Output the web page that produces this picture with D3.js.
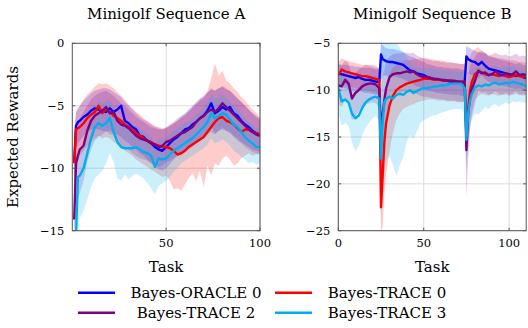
<!DOCTYPE html>
<html>
<head>
<meta charset="utf-8">
<script src="https://cdn.jsdelivr.net/npm/d3@7"></script>
<style>
  body { margin: 0; background: #fff; }
  svg { display: block; font-family: "DejaVu Serif", serif; }
</style>
</head>
<body>
<svg id="chart" width="528" height="328"></svg>
<script>
// ------------------------------
// DONNEES
// ------------------------------
const seriesNames = ["Bayes-ORACLE 0", "Bayes-TRACE 0", "Bayes-TRACE 2", "Bayes-TRACE 3"];
const seriesColors = ["#0000ff", "#ff0000", "#800080", "#00aeef"];

// Sequence A
const tasksA = [1,2,3,4,6,8,10,12,14,16,18,20,22,24,26,28,30,32,34,36,38,40,42,44,46,48,50,52,54,56,58,60,62,64,66,68,70,72,74,76,78,80,82,84,86,88,90,92,94,96,98,100];
const oracle0A = [-9.5,-6.6,-6.3,-6.2,-5.9,-5.7,-5.4,-5.2,-5.3,-5.4,-5.5,-5.2,-5.5,-5.3,-5.0,-6.2,-6.4,-6.7,-6.9,-7.4,-7.5,-7.8,-8.0,-8.3,-8.5,-8.6,-8.3,-8.0,-7.7,-7.5,-7.2,-6.9,-6.8,-6.5,-6.3,-6.0,-5.8,-5.4,-4.8,-5.6,-5.4,-5.1,-5.3,-5.1,-5.6,-5.8,-6.2,-6.5,-6.7,-7.0,-7.2,-7.3];
const trace0A = [-9.6,-6.9,-6.8,-6.7,-6.4,-6.0,-5.7,-5.5,-5.0,-5.6,-5.3,-5.5,-5.8,-6.0,-6.2,-6.5,-6.7,-6.9,-7.2,-7.4,-7.6,-7.8,-7.9,-8.1,-8.2,-8.3,-8.3,-8.4,-8.6,-8.9,-8.8,-8.6,-8.3,-8.1,-7.9,-7.7,-7.5,-7.1,-6.7,-6.3,-6.0,-5.9,-6.2,-6.3,-6.5,-6.8,-7.1,-6.9,-6.9,-7.1,-7.2,-7.3];
const trace2A = [-14.1,-9.6,-9.0,-8.5,-8.2,-7.0,-6.2,-5.8,-5.6,-5.4,-5.1,-5.6,-5.5,-6.2,-6.5,-6.6,-6.8,-7.1,-7.4,-7.6,-7.7,-7.8,-8.0,-8.1,-8.3,-8.2,-7.9,-7.8,-7.6,-7.4,-7.2,-7.1,-6.9,-6.7,-6.3,-6.0,-5.8,-5.5,-5.3,-5.5,-5.2,-4.8,-5.1,-5.4,-5.7,-6.0,-6.3,-6.6,-6.9,-7.1,-7.3,-7.4];
const trace3A = [-15.3,-15.3,-10.7,-10.6,-10.0,-8.8,-7.6,-6.7,-6.4,-6.6,-6.4,-6.0,-7.1,-7.9,-8.3,-8.4,-8.4,-8.4,-8.3,-8.5,-8.7,-8.8,-9.0,-9.9,-9.2,-9.3,-9.2,-8.9,-8.6,-8.4,-8.2,-8.0,-7.8,-7.6,-7.3,-7.0,-6.7,-6.3,-5.6,-6.0,-5.8,-5.6,-5.7,-6.1,-6.5,-6.7,-7.1,-7.5,-7.8,-8.0,-8.3,-8.3];
// bandes (min / max)
const oracle0ALo = [-12,-8.5,-8.0,-7.8,-7.4,-7.1,-6.9,-6.8,-6.9,-7.0,-7.1,-7.0,-7.2,-7.3,-7.5,-7.8,-8.0,-8.3,-8.5,-8.8,-9.0,-9.3,-9.6,-9.9,-10.1,-10.2,-10.0,-9.7,-9.3,-9.0,-8.7,-8.5,-8.3,-8.0,-7.8,-7.6,-7.4,-7.1,-6.6,-7.2,-7.0,-6.9,-7.0,-7.1,-7.4,-7.6,-7.9,-8.1,-8.3,-8.5,-8.6,-8.7];
const oracle0AHi = [-7,-5.5,-5.2,-5.0,-4.6,-4.3,-4.0,-3.8,-3.7,-3.6,-3.6,-3.7,-3.9,-4.1,-4.3,-4.7,-5.0,-5.3,-5.6,-5.9,-6.1,-6.3,-6.5,-6.7,-6.8,-6.9,-6.8,-6.6,-6.4,-6.2,-5.9,-5.7,-5.4,-5.1,-4.8,-4.5,-4.3,-4.0,-3.6,-3.8,-3.6,-3.5,-3.7,-3.8,-4.1,-4.4,-4.7,-5.0,-5.3,-5.6,-5.9,-6.1];
const trace0ALo = [-12,-10.5,-9.5,-9.0,-8.6,-8.2,-7.9,-7.6,-7.4,-7.6,-7.5,-7.6,-7.9,-8.1,-8.3,-8.6,-8.8,-9.0,-9.3,-9.5,-9.7,-9.9,-10.1,-10.3,-10.5,-10.7,-10.6,-11.0,-11.7,-11.6,-11.8,-11.3,-10.8,-10.4,-11.0,-10.2,-11.5,-9.8,-10.6,-9.6,-9.8,-9.2,-9.0,-9.3,-9.8,-9.6,-9.2,-9.0,-8.8,-9.0,-8.9,-8.8];
const trace0AHi = [-7.5,-5.5,-5.3,-5.0,-4.5,-4.1,-3.8,-3.5,-3.2,-3.3,-3.2,-3.4,-3.6,-3.9,-4.2,-4.5,-4.9,-5.2,-5.5,-5.7,-6.0,-6.2,-6.4,-6.6,-6.7,-6.8,-6.8,-6.6,-6.4,-6.2,-6.0,-5.8,-5.5,-5.2,-4.9,-4.6,-4.4,-3.8,-2.8,-1.6,-2.6,-2.2,-3.0,-3.2,-3.6,-3.9,-4.3,-4.6,-5.0,-5.3,-5.6,-5.9];
const trace2ALo = [-15,-14,-12.5,-12.0,-11.0,-9.5,-8.5,-7.8,-7.5,-7.3,-7.0,-7.3,-7.3,-7.9,-8.2,-8.4,-8.5,-8.8,-9.0,-9.2,-9.3,-9.4,-9.6,-9.7,-9.9,-9.8,-9.5,-9.4,-9.2,-9.0,-8.8,-8.7,-8.5,-8.3,-8.0,-7.8,-7.6,-7.3,-7.1,-7.3,-7.0,-6.7,-7.0,-7.2,-7.5,-7.8,-8.0,-8.3,-8.5,-8.7,-8.8,-8.9];
const trace2AHi = [-8,-7,-6.5,-6.0,-5.5,-5.0,-4.5,-4.2,-4.0,-3.9,-3.8,-4.0,-4.2,-4.5,-4.8,-5.0,-5.3,-5.6,-5.9,-6.1,-6.3,-6.5,-6.7,-6.8,-6.9,-6.9,-6.7,-6.5,-6.3,-6.0,-5.8,-5.6,-5.3,-5.0,-4.7,-4.4,-4.2,-3.9,-3.7,-3.8,-3.6,-3.4,-3.6,-3.8,-4.1,-4.4,-4.7,-5.0,-5.3,-5.6,-5.8,-6.0];
const trace3ALo = [-15.5,-15.5,-15.5,-14.0,-13.4,-12.5,-11.5,-10.8,-10.5,-10.2,-9.6,-8.8,-9.5,-10.8,-11.0,-10.5,-10.9,-10.6,-10.4,-10.6,-10.8,-11.2,-11.6,-12.1,-11.4,-11.2,-11.0,-10.7,-10.3,-10.0,-9.6,-9.4,-9.2,-9.0,-8.8,-8.6,-8.4,-8.1,-7.6,-8.0,-7.9,-7.7,-7.9,-8.2,-8.6,-8.8,-9.1,-9.3,-9.6,-9.5,-9.7,-9.6];
const trace3AHi = [-13,-12,-9.0,-8.8,-8.0,-6.8,-5.7,-5.0,-4.6,-4.8,-4.6,-4.5,-5.2,-5.8,-6.2,-6.4,-6.5,-6.6,-6.6,-6.8,-7.0,-7.2,-7.4,-8.0,-7.6,-7.7,-7.6,-7.3,-7.0,-6.8,-6.6,-6.4,-6.2,-6.0,-5.7,-5.4,-5.1,-4.7,-4.1,-4.5,-4.3,-4.1,-4.3,-4.7,-5.0,-5.2,-5.6,-6.0,-6.3,-6.5,-6.8,-6.8];

// Sequence B
const tasksB = [0,2,4,6,8,10,12,14,16,18,20,22,24,25,26,27,28,30,32,34,36,38,40,42,44,46,48,50,52,54,56,58,60,62,64,66,68,70,72,74,75,76,77,78,80,82,84,86,88,90,92,94,96,98,100,102,104,106,108,110];
const oracle0B = [-8.2,-8.3,-8.4,-8.5,-8.6,-8.7,-8.6,-8.8,-8.9,-8.9,-9.0,-9.1,-9.1,-6.2,-6.7,-6.8,-6.9,-7.0,-7.0,-7.1,-7.2,-7.3,-7.6,-7.9,-8.0,-8.2,-8.3,-8.4,-8.6,-8.7,-8.8,-8.9,-8.9,-9.0,-9.0,-9.1,-9.1,-9.1,-9.2,-9.2,-6.4,-6.7,-6.8,-6.9,-7.0,-7.3,-7.0,-7.4,-7.7,-7.8,-7.9,-8.0,-8.1,-8.2,-8.3,-8.4,-8.5,-8.4,-8.6,-8.7];
const trace0B = [-8.4,-7.8,-8.0,-8.1,-8.2,-8.3,-8.4,-8.5,-8.5,-8.6,-8.7,-8.8,-8.9,-22.5,-19.0,-15.5,-13.5,-11.6,-10.6,-10.0,-9.7,-9.5,-9.3,-9.2,-9.1,-9.0,-8.9,-8.8,-8.8,-8.8,-8.9,-8.9,-8.9,-9.0,-9.0,-9.0,-9.1,-9.1,-9.1,-9.1,-15.0,-12.0,-10.2,-9.2,-8.3,-8.0,-8.1,-8.3,-8.4,-8.3,-8.4,-8.5,-8.4,-8.5,-8.6,-8.5,-8.4,-8.5,-8.6,-8.5];
const trace2B = [-9.5,-9.6,-8.9,-9.3,-10.9,-10.3,-10.0,-9.6,-9.4,-9.3,-9.3,-9.4,-9.8,-14.5,-12.5,-11.0,-9.8,-8.6,-8.3,-8.2,-8.2,-8.1,-8.0,-8.1,-8.0,-8.3,-8.5,-8.6,-8.6,-8.7,-8.8,-8.8,-8.9,-8.9,-9.0,-9.0,-9.0,-9.1,-9.1,-9.1,-16.4,-12.5,-11.0,-10.0,-9.0,-7.9,-8.2,-8.1,-8.4,-8.3,-8.0,-8.3,-8.4,-8.2,-8.4,-8.3,-8.0,-8.4,-8.3,-8.4];
const trace3B = [-9.8,-11.2,-11.0,-11.3,-12.5,-13.0,-12.7,-11.9,-11.3,-11.0,-10.8,-10.7,-10.9,-17.3,-13.2,-11.3,-10.9,-10.7,-10.9,-10.5,-10.4,-10.5,-10.2,-10.0,-10.3,-10.1,-9.9,-9.8,-9.8,-9.7,-9.6,-9.6,-9.5,-9.5,-9.4,-9.3,-9.3,-9.3,-9.3,-9.8,-15.3,-12.5,-11.2,-10.5,-9.7,-9.5,-9.6,-9.4,-9.5,-9.3,-9.2,-9.4,-9.3,-9.2,-9.3,-9.1,-9.2,-9.3,-9.4,-9.6];
const oracle0BLo = [-9.6,-9.7,-9.8,-9.9,-10.0,-10.1,-10.0,-10.2,-10.3,-10.3,-10.4,-10.5,-10.5,-9.0,-8.5,-8.4,-8.5,-8.5,-8.5,-8.6,-8.7,-8.8,-9.0,-9.3,-9.4,-9.6,-9.7,-9.8,-10.0,-10.1,-10.2,-10.3,-10.3,-10.4,-10.4,-10.5,-10.5,-10.5,-10.6,-10.6,-9.5,-8.3,-8.3,-8.4,-8.4,-8.7,-8.4,-8.8,-9.1,-9.2,-9.3,-9.4,-9.5,-9.6,-9.7,-9.8,-9.9,-9.8,-10.0,-10.1];
const oracle0BHi = [-7.2,-7.3,-7.3,-7.4,-7.4,-7.5,-7.5,-7.6,-7.6,-7.6,-7.7,-7.8,-7.8,-5.0,-5.2,-5.4,-5.5,-5.6,-5.6,-5.7,-5.8,-5.9,-6.2,-6.4,-6.5,-6.7,-6.9,-7.0,-7.2,-7.3,-7.4,-7.5,-7.5,-7.6,-7.6,-7.7,-7.7,-7.7,-7.8,-7.8,-5.2,-5.4,-5.5,-5.6,-5.8,-6.0,-5.8,-6.1,-6.4,-6.5,-6.6,-6.7,-6.8,-6.9,-7.0,-7.1,-7.2,-7.1,-7.3,-7.4];
const trace0BLo = [-10.0,-9.4,-9.5,-9.6,-9.7,-9.8,-9.9,-10.0,-10.0,-10.1,-10.2,-10.3,-10.4,-25.5,-24.5,-21.0,-19.0,-16.5,-14.5,-13.2,-12.5,-12.0,-11.8,-11.6,-11.5,-11.3,-11.2,-11.1,-11.0,-11.0,-11.0,-11.1,-11.1,-11.1,-11.2,-11.2,-11.2,-11.3,-11.3,-11.3,-18.0,-16.0,-14.0,-12.5,-11.0,-10.6,-10.4,-10.5,-10.6,-10.4,-10.5,-10.6,-10.5,-10.5,-10.6,-10.5,-10.4,-10.5,-10.6,-10.5];
const trace0BHi = [-7.0,-6.6,-6.8,-6.9,-7.0,-7.1,-7.2,-7.3,-7.3,-7.4,-7.5,-7.6,-7.7,-16.0,-13.5,-11.0,-9.5,-8.2,-7.6,-7.2,-7.0,-6.9,-6.8,-6.8,-6.7,-6.7,-6.6,-6.6,-6.6,-6.7,-6.7,-6.8,-6.8,-6.9,-7.0,-7.0,-7.1,-7.1,-7.2,-7.2,-9.0,-7.5,-6.5,-6.0,-5.6,-5.4,-5.8,-6.0,-6.3,-6.4,-6.5,-6.6,-6.6,-6.7,-6.8,-6.8,-6.9,-7.0,-7.0,-7.1];
const trace2BLo = [-11.5,-11.8,-11.0,-11.5,-13.2,-12.8,-12.2,-11.7,-11.5,-11.4,-11.3,-11.4,-11.9,-20.0,-17.5,-15.0,-13.0,-11.0,-10.4,-10.3,-10.3,-10.2,-10.1,-10.2,-10.1,-10.4,-10.6,-10.7,-10.7,-10.8,-10.9,-10.9,-11.0,-11.0,-11.1,-11.1,-11.1,-11.2,-11.2,-11.2,-21.5,-17.5,-14.5,-13.0,-11.5,-10.0,-10.3,-10.2,-10.5,-10.4,-10.1,-10.4,-10.5,-10.3,-10.5,-10.4,-10.1,-10.5,-10.4,-10.5];
const trace2BHi = [-7.3,-7.4,-6.8,-7.1,-8.5,-8.2,-7.8,-7.5,-7.3,-7.3,-7.3,-7.4,-7.7,-9.5,-8.5,-7.8,-7.0,-6.4,-6.2,-6.1,-6.1,-6.0,-6.0,-6.1,-6.0,-6.3,-6.5,-6.6,-6.7,-6.8,-6.9,-6.9,-7.0,-7.0,-7.1,-7.1,-7.1,-7.2,-7.2,-7.2,-10.0,-8.5,-7.5,-7.0,-6.5,-5.9,-6.1,-6.0,-6.3,-6.2,-6.0,-6.2,-6.3,-6.2,-6.4,-6.3,-6.1,-6.4,-6.3,-6.4];
const trace3BLo = [-12.5,-13.8,-13.5,-13.8,-15.5,-16.5,-16.0,-14.8,-14.0,-13.5,-13.0,-12.8,-13.2,-24.5,-21.0,-18.5,-17.5,-17.0,-18.0,-19.2,-18.0,-17.2,-15.5,-14.8,-15.2,-14.4,-13.5,-13.2,-13.0,-12.8,-12.7,-12.6,-12.4,-12.3,-12.2,-12.1,-12.0,-12.0,-12.0,-12.5,-19.0,-15.5,-14.0,-13.2,-12.5,-12.6,-12.2,-11.8,-12.0,-11.6,-11.5,-11.8,-11.5,-11.3,-11.5,-11.2,-11.3,-11.2,-11.3,-11.4];
const trace3BHi = [-7.0,-8.5,-8.5,-8.8,-9.6,-10.0,-9.7,-9.2,-8.8,-8.6,-8.5,-8.4,-8.6,-5.0,-4.8,-4.8,-4.8,-4.8,-4.8,-5.0,-5.5,-6.0,-6.5,-7.0,-7.5,-7.6,-7.6,-7.6,-7.7,-7.7,-7.7,-7.8,-7.8,-7.9,-7.9,-7.9,-8.0,-8.0,-8.0,-8.2,-9.5,-8.5,-8.0,-7.8,-7.6,-7.5,-7.6,-7.5,-7.6,-7.5,-7.4,-7.6,-7.5,-7.5,-7.6,-7.4,-7.5,-7.6,-7.7,-7.9];

// ticks
const xTicksA = [50, 100];
const yTicksA = [0, -5, -10, -15];
const xTicksB = [0, 50, 100];
const yTicksB = [-5, -10, -15, -20, -25];

// ------------------------------
// CONSTRUCTION DES SERIES
// ------------------------------
function makeSeries(tasks, means, los, his) {
  return seriesNames.map((name, i) => ({
    name: name,
    color: seriesColors[i],
    points: tasks.map((t, j) => ({ t: t, m: means[i][j], lo: los[i][j], hi: his[i][j] }))
  }));
}

const seriesA = makeSeries(tasksA,
  [oracle0A, trace0A, trace2A, trace3A],
  [oracle0ALo, trace0ALo, trace2ALo, trace3ALo],
  [oracle0AHi, trace0AHi, trace2AHi, trace3AHi]);
const seriesB = makeSeries(tasksB,
  [oracle0B, trace0B, trace2B, trace3B],
  [oracle0BLo, trace0BLo, trace2BLo, trace3BLo],
  [oracle0BHi, trace0BHi, trace2BHi, trace3BHi]);

const svg = d3.select("#chart");
const fmt = d3.format("d");
const frameColor = "#555";

// ------------------------------
// UN PANNEAU
// ------------------------------
function drawPanel(opt) {
  const x = d3.scaleLinear().domain(opt.xDomain).range([opt.left, opt.right]);
  const y = d3.scaleLinear().domain(opt.yDomain).range([opt.bottom, opt.top]);
  const g = svg.append("g");

  // grille
  g.selectAll(".gx").data(opt.xTicks).enter().append("line")
    .attr("x1", d => x(d)).attr("x2", d => x(d))
    .attr("y1", opt.top).attr("y2", opt.bottom)
    .attr("stroke", "#dcdcdc").attr("stroke-width", 1);
  g.selectAll(".gy").data(opt.yTicks).enter().append("line")
    .attr("x1", opt.left).attr("x2", opt.right)
    .attr("y1", d => y(d)).attr("y2", d => y(d))
    .attr("stroke", "#dcdcdc").attr("stroke-width", 1);

  // clip
  svg.append("clipPath").attr("id", opt.id)
    .append("rect").attr("x", opt.left).attr("y", opt.top)
    .attr("width", opt.right - opt.left).attr("height", opt.bottom - opt.top);
  const plot = g.append("g").attr("clip-path", `url(#${opt.id})`);

  const area = d3.area().x(d => x(d.t)).y0(d => y(d.lo)).y1(d => y(d.hi));
  const line = d3.line().x(d => x(d.t)).y(d => y(d.m));

  plot.selectAll(".band").data(opt.series).enter().append("path")
    .attr("d", s => area(s.points))
    .attr("fill", s => s.color).attr("fill-opacity", 0.2);
  plot.selectAll(".mean").data(opt.series).enter().append("path")
    .attr("d", s => line(s.points))
    .attr("fill", "none").attr("stroke", s => s.color)
    .attr("stroke-width", 2.4).attr("stroke-linejoin", "round");

  // petits ticks vers l'interieur
  g.selectAll(".tx").data(opt.xTicks).enter().append("path")
    .attr("d", d => `M${x(d)},${opt.bottom}v-3M${x(d)},${opt.top}v3`)
    .attr("stroke", frameColor);
  g.selectAll(".ty").data(opt.yTicks).enter().append("path")
    .attr("d", d => `M${opt.left},${y(d)}h3M${opt.right},${y(d)}h-3`)
    .attr("stroke", frameColor);

  // cadre
  g.append("rect").attr("x", opt.left).attr("y", opt.top)
    .attr("width", opt.right - opt.left).attr("height", opt.bottom - opt.top)
    .attr("fill", "none").attr("stroke", frameColor).attr("stroke-width", 1);

  // labels des ticks
  g.selectAll(".lx").data(opt.xTicks).enter().append("text")
    .attr("x", d => x(d)).attr("y", opt.bottom + 16)
    .attr("text-anchor", "middle").attr("font-size", 11.5)
    .text(d => fmt(d));
  g.selectAll(".ly").data(opt.yTicks).enter().append("text")
    .attr("x", opt.left - 8).attr("y", d => y(d) + 4)
    .attr("text-anchor", "end").attr("font-size", 11.5)
    .text(d => fmt(d));

  // titre + axe x
  g.append("text").attr("x", (opt.left + opt.right) / 2).attr("y", 18.5)
    .attr("text-anchor", "middle").attr("font-size", 15).text(opt.title);
  g.append("text").attr("x", (opt.left + opt.right) / 2).attr("y", 272)
    .attr("text-anchor", "middle").attr("font-size", 15).text("Task");
}

drawPanel({ id: "clipA", series: seriesA, title: "Minigolf Sequence A",
  xDomain: [0, 100], yDomain: [-15, 0], xTicks: xTicksA, yTicks: yTicksA,
  left: 72.3, right: 260, top: 43.3, bottom: 230.7 });
drawPanel({ id: "clipB", series: seriesB, title: "Minigolf Sequence B",
  xDomain: [0, 110], yDomain: [-25, -5], xTicks: xTicksB, yTicks: yTicksB,
  left: 338.3, right: 526.2, top: 43.3, bottom: 230.7 });

// label y
svg.append("text")
  .attr("transform", "translate(18,137) rotate(-90)")
  .attr("text-anchor", "middle").attr("font-size", 15)
  .text("Expected Rewards");

// ------------------------------
// LEGENDE
// ------------------------------
const legendCols = [{ lx: 78, tx: 196 }, { lx: 275, tx: 387 }];
const legend = svg.append("g");
seriesNames.forEach((name, i) => {
  const col = legendCols[i % 2];
  const rowY = 292.7 + Math.floor(i / 2) * 20;
  legend.append("line")
    .attr("x1", col.lx).attr("x2", col.lx + 37)
    .attr("y1", rowY).attr("y2", rowY)
    .attr("stroke", seriesColors[i]).attr("stroke-width", 2.4);
  legend.append("text")
    .attr("x", col.tx).attr("y", rowY + 5.5)
    .attr("text-anchor", "middle").attr("font-size", 15)
    .text(name);
});
</script>
</body>
</html>
